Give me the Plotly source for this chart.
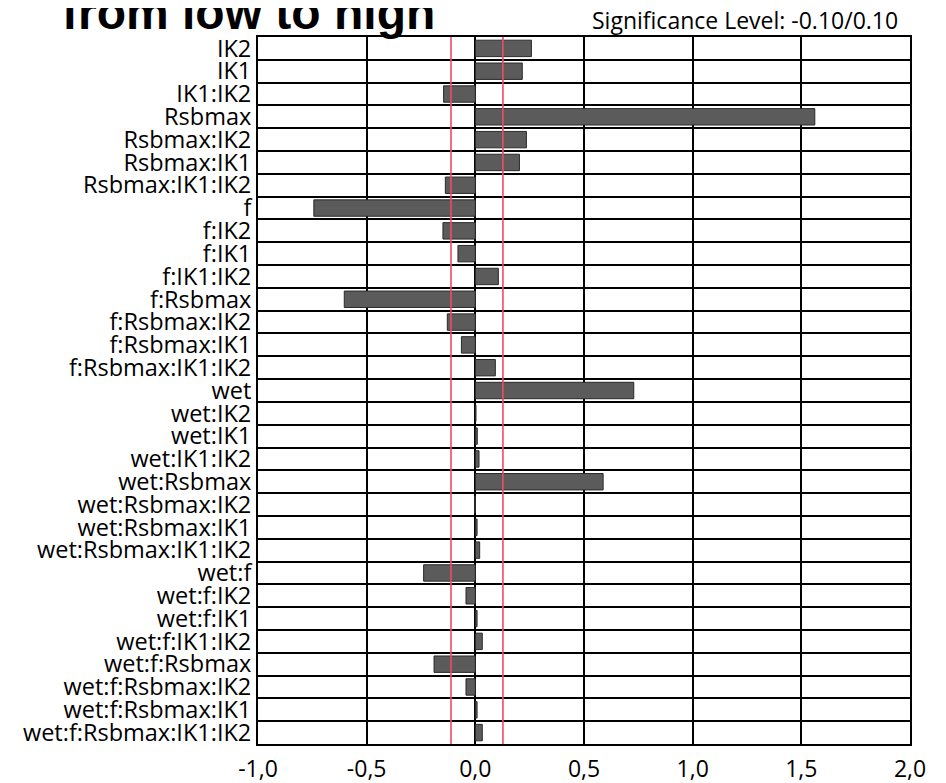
import plotly.graph_objects as go

# termes du modèle (de haut en bas) et effets estimés
terms = ["IK2", "IK1", "IK1:IK2", "Rsbmax", "Rsbmax:IK2", "Rsbmax:IK1", "Rsbmax:IK1:IK2",
         "f", "f:IK2", "f:IK1", "f:IK1:IK2", "f:Rsbmax", "f:Rsbmax:IK2", "f:Rsbmax:IK1",
         "f:Rsbmax:IK1:IK2", "wet", "wet:IK2", "wet:IK1", "wet:IK1:IK2", "wet:Rsbmax",
         "wet:Rsbmax:IK2", "wet:Rsbmax:IK1", "wet:Rsbmax:IK1:IK2", "wet:f", "wet:f:IK2",
         "wet:f:IK1", "wet:f:IK1:IK2", "wet:f:Rsbmax", "wet:f:Rsbmax:IK2",
         "wet:f:Rsbmax:IK1", "wet:f:Rsbmax:IK1:IK2"]
effects = [0.258, 0.216, -0.146, 1.562, 0.235, 0.203, -0.138,
           -0.743, -0.149, -0.080, 0.106, -0.603, -0.129, -0.064,
           0.092, 0.729, 0.003, 0.009, 0.017, 0.588,
           -0.003, 0.008, 0.020, -0.238, -0.043,
           0.008, 0.032, -0.190, -0.043,
           0.008, 0.032]

# seuils de significativité (lignes rouges)
sig_lines = [-0.112, 0.127]
sig_label = "Significance Level: -0.10/0.10"
x_ticks = [-1.0, -0.5, 0.0, 0.5, 1.0, 1.5, 2.0]
x_ticktext = ["-1,0", "-0,5", "0,0", "0,5", "1,0", "1,5", "2,0"]

fig = go.Figure()
fig.add_trace(go.Bar(
    x=effects, y=terms, orientation="h", width=0.72,
    marker=dict(color="#5b5b5b", line=dict(color="#2a2a2a", width=1)),
    showlegend=False,
))

for v in sig_lines:
    fig.add_shape(type="line", x0=v, x1=v, y0=0, y1=1, xref="x", yref="paper",
                  line=dict(color="#ef4a68", width=1.6), layer="above")

fig.add_annotation(text="from low to high", xref="paper", yref="paper",
                   x=-0.303, y=1.034, xanchor="left", yanchor="middle", showarrow=False,
                   font=dict(family="Liberation Sans", size=48, color="black", weight="bold"))
fig.add_annotation(text=sig_label, xref="paper", yref="paper",
                   x=0.985, y=1.024, xanchor="right", yanchor="middle", showarrow=False,
                   font=dict(family="Open Sans", size=23, color="black"))

# la page a une marge de 8 px : figure un peu plus petite que la fenêtre
fig.update_layout(
    width=938, height=775,
    margin=dict(l=250, r=36, t=29, b=39),
    plot_bgcolor="white", paper_bgcolor="white",
    font=dict(family="Open Sans", size=23, color="black"),
)
fig.update_xaxes(range=[-1, 2], tickmode="array", tickvals=x_ticks, ticktext=x_ticktext,
                 showgrid=True, gridcolor="black", gridwidth=2,
                 zeroline=True, zerolinecolor="black", zerolinewidth=2,
                 showline=True, linecolor="black", linewidth=2, mirror=True,
                 ticks="", ticklabelstandoff=3, tickfont=dict(size=23),
                 automargin=False)
fig.update_yaxes(type="category", autorange="reversed", tickson="boundaries",
                 tickmode="array", tickvals=terms, ticktext=terms,
                 showgrid=True, gridcolor="black", gridwidth=2,
                 showline=True, linecolor="black", linewidth=2, mirror=True,
                 ticks="", ticklabelstandoff=0, tickfont=dict(size=23.5),
                 automargin=False)

fig.write_html("out.html")
